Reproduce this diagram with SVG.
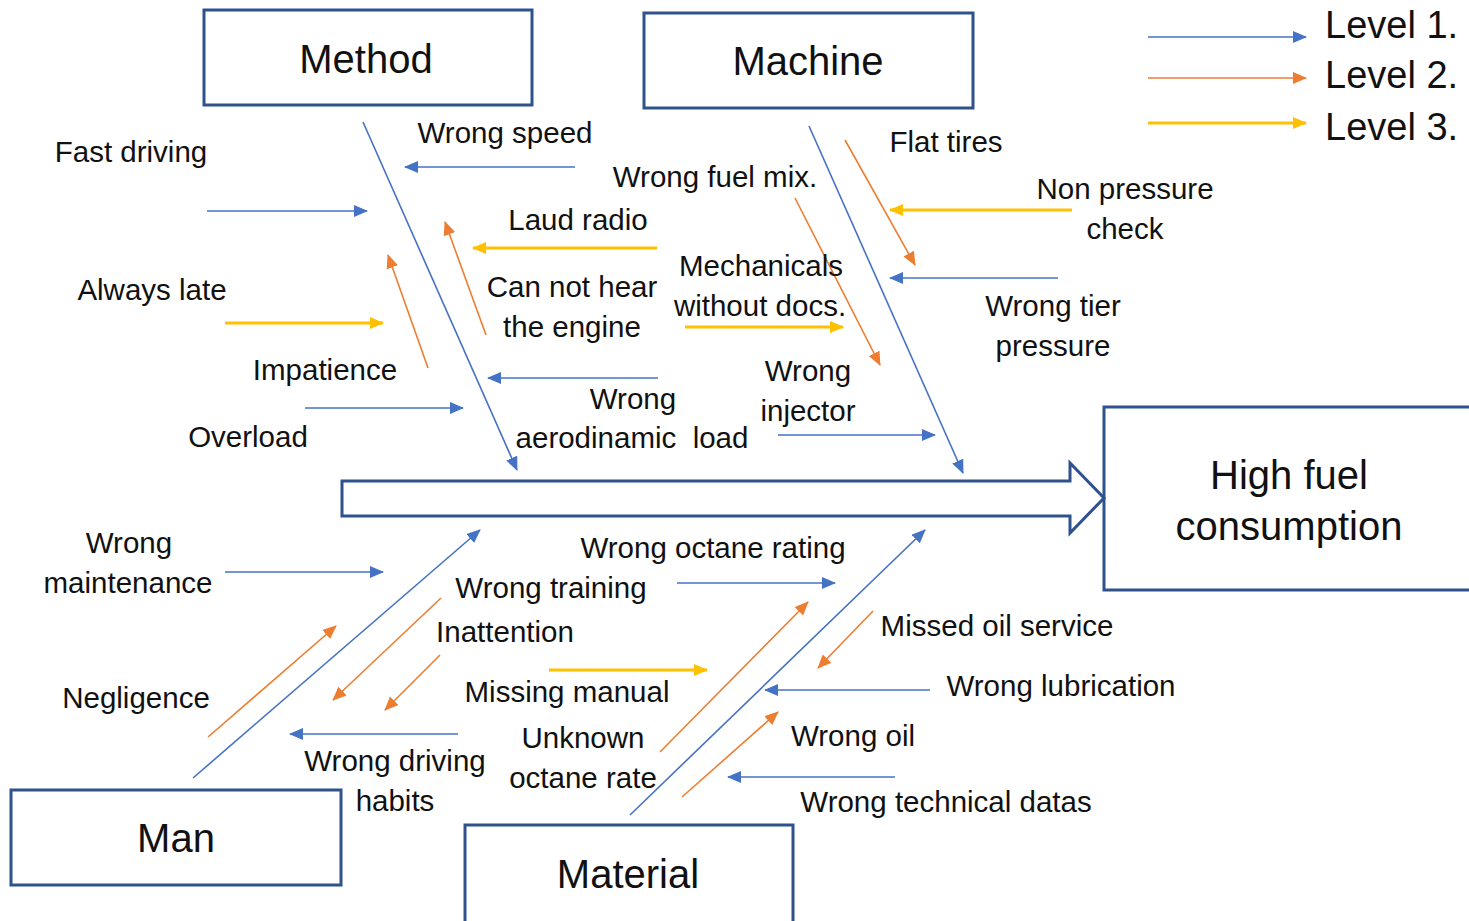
<svg xmlns="http://www.w3.org/2000/svg" width="1469" height="921" viewBox="0 0 1469 921">
<style>
.box{fill:#fff;stroke:#2F528F;stroke-width:3}
.t{font-family:"Liberation Sans",Arial,sans-serif;font-size:29.5px;fill:#111;text-anchor:middle;white-space:pre}
.tb{font-family:"Liberation Sans",Arial,sans-serif;font-size:40px;fill:#111;text-anchor:middle}
.lg{font-family:"Liberation Sans",Arial,sans-serif;font-size:38px;fill:#111}
.b{stroke:#4472C4;stroke-width:1.6;fill:none;marker-end:url(#ab)}
.o{stroke:#ED7D31;stroke-width:1.6;fill:none;marker-end:url(#ao)}
.y{stroke:#FFC000;stroke-width:3;fill:none;marker-end:url(#ay)}
</style>
<defs>
<marker id="ab" markerUnits="userSpaceOnUse" markerWidth="14" markerHeight="12" refX="13" refY="6" orient="auto"><path d="M0,0 L14,6 L0,12 z" fill="#4472C4"/></marker>
<marker id="ao" markerUnits="userSpaceOnUse" markerWidth="14" markerHeight="12" refX="13" refY="6" orient="auto"><path d="M0,0 L14,6 L0,12 z" fill="#ED7D31"/></marker>
<marker id="ay" markerUnits="userSpaceOnUse" markerWidth="14" markerHeight="12" refX="13" refY="6" orient="auto"><path d="M0,0 L14,6 L0,12 z" fill="#FFC000"/></marker>
</defs>
<rect width="1469" height="921" fill="#fff"/>

<g id="effect">
<rect class="box" x="1104" y="407" width="370" height="183"/>
<text class="tb" x="1289" y="489">High fuel</text>
<text class="tb" x="1289" y="540">consumption</text>
</g>
<g id="spine">
<path class="box" d="M342,481 H1070 V463 L1104,498 L1070,533 V516 H342 Z"/>
</g>
<g id="method">
<rect class="box" x="204" y="10" width="328" height="95"/>
<text class="tb" x="366" y="73">Method</text>
</g>
<g id="machine">
<rect class="box" x="644" y="13" width="329" height="95"/>
<text class="tb" x="808" y="75">Machine</text>
</g>
<g id="man">
<rect class="box" x="11" y="790" width="330" height="95"/>
<text class="tb" x="176" y="852">Man</text>
</g>
<g id="material">
<rect class="box" x="465" y="825" width="328" height="100"/>
<text class="tb" x="628" y="888">Material</text>
</g>

<g id="legend">
<line class="b" x1="1148" y1="37" x2="1306" y2="37"/>
<line class="o" x1="1148" y1="78" x2="1306" y2="78"/>
<line class="y" x1="1148" y1="123" x2="1306" y2="123"/>
<text class="lg" x="1325" y="38">Level 1.</text>
<text class="lg" x="1325" y="88">Level 2.</text>
<text class="lg" x="1325" y="140">Level 3.</text>
</g>

<g id="connectors">
<line class="b" x1="363" y1="122" x2="517" y2="470"/>
<line class="b" x1="809" y1="126" x2="963" y2="473"/>
<line class="b" x1="193" y1="778" x2="480" y2="530"/>
<line class="b" x1="630" y1="815" x2="925" y2="530"/>
<line class="b" x1="207" y1="211" x2="367" y2="211"/>
<line class="b" x1="575" y1="167" x2="405" y2="167"/>
<line class="b" x1="305" y1="408" x2="463" y2="408"/>
<line class="b" x1="658" y1="378" x2="488" y2="378"/>
<line class="b" x1="778" y1="435" x2="935" y2="435"/>
<line class="b" x1="1058" y1="278" x2="890" y2="278"/>
<line class="b" x1="225" y1="572" x2="383" y2="572"/>
<line class="b" x1="458" y1="734" x2="290" y2="734"/>
<line class="b" x1="677" y1="583" x2="835" y2="583"/>
<line class="b" x1="930" y1="690" x2="765" y2="690"/>
<line class="b" x1="895" y1="777" x2="728" y2="777"/>
<line class="o" x1="428" y1="368" x2="388" y2="255"/>
<line class="o" x1="486" y1="335" x2="445" y2="222"/>
<line class="o" x1="795" y1="198" x2="880" y2="365"/>
<line class="o" x1="845" y1="140" x2="915" y2="265"/>
<line class="o" x1="208" y1="737" x2="336" y2="626"/>
<line class="o" x1="441" y1="598" x2="333" y2="700"/>
<line class="o" x1="440" y1="655" x2="385" y2="710"/>
<line class="o" x1="660" y1="752" x2="808" y2="602"/>
<line class="o" x1="873" y1="611" x2="818" y2="668"/>
<line class="o" x1="682" y1="797" x2="778" y2="712"/>
<line class="y" x1="225" y1="323" x2="383" y2="323"/>
<line class="y" x1="657" y1="248" x2="473" y2="248"/>
<line class="y" x1="685" y1="327" x2="843" y2="327"/>
<line class="y" x1="1072" y1="210" x2="890" y2="210"/>
<line class="y" x1="549" y1="670" x2="707" y2="670"/>
</g>

<g id="labels">
<text class="t" x="131" y="162">Fast driving</text>
<text class="t" x="505" y="143">Wrong speed</text>
<text class="t" x="715" y="187">Wrong fuel mix.</text>
<text class="t" x="946" y="152">Flat tires</text>
<text class="t" x="1125" y="199">Non pressure</text>
<text class="t" x="1125" y="239">check</text>
<text class="t" x="578" y="230">Laud radio</text>
<text class="t" x="152" y="300">Always late</text>
<text class="t" x="761" y="276">Mechanicals</text>
<text class="t" x="760" y="316">without docs.</text>
<text class="t" x="572" y="297">Can not hear</text>
<text class="t" x="572" y="337">the engine</text>
<text class="t" x="1053" y="316">Wrong tier</text>
<text class="t" x="1053" y="356">pressure</text>
<text class="t" x="325" y="380">Impatience</text>
<text class="t" x="808" y="381">Wrong</text>
<text class="t" x="808" y="421">injector</text>
<text class="t" x="633" y="409">Wrong</text>
<text class="t" x="632" y="448">aerodinamic  load</text>
<text class="t" x="248" y="447">Overload</text>
<text class="t" x="129" y="553">Wrong</text>
<text class="t" x="128" y="593">maintenance</text>
<text class="t" x="713" y="558">Wrong octane rating</text>
<text class="t" x="551" y="598">Wrong training</text>
<text class="t" x="505" y="642">Inattention</text>
<text class="t" x="567" y="702">Missing manual</text>
<text class="t" x="997" y="636">Missed oil service</text>
<text class="t" x="1061" y="696">Wrong lubrication</text>
<text class="t" x="136" y="708">Negligence</text>
<text class="t" x="583" y="748">Unknown</text>
<text class="t" x="583" y="788">octane rate</text>
<text class="t" x="853" y="746">Wrong oil</text>
<text class="t" x="395" y="771">Wrong driving</text>
<text class="t" x="395" y="811">habits</text>
<text class="t" x="946" y="812">Wrong technical datas</text>
</g>
</svg>
